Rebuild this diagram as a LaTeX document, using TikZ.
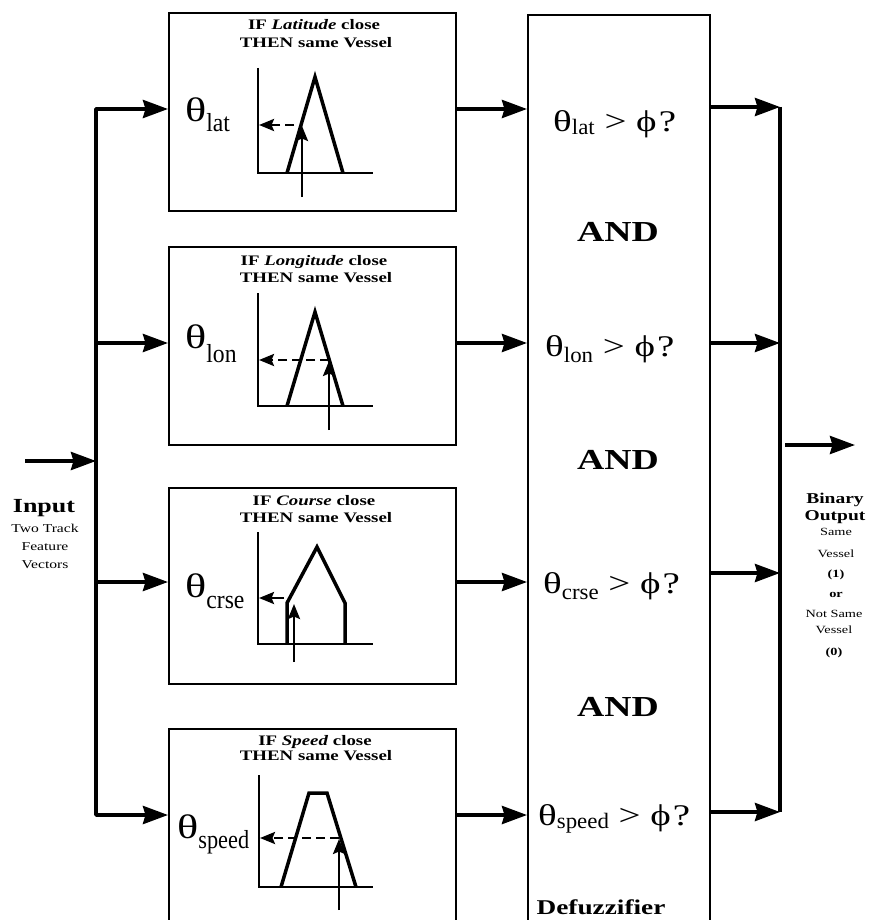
\documentclass[tikz,border=0pt]{standalone}
\usepackage{fontspec}
\setmainfont{Liberation Serif}[FakeStretch=1.3]
\usetikzlibrary{arrows.meta}
\newcommand\ThetaSub[5]{{\fontsize{#1}{#1}\selectfont θ}\raisebox{-#3}{\scalebox{#5}[1]{\fontsize{#2}{#2}\selectfont #4}}}
\begin{document}
\begin{tikzpicture}[x=1pt,y=-1pt,
  box/.style={draw, line width=1.6pt, inner sep=0pt, anchor=north west},
  arr/.style={line width=3.8pt, -{Stealth[length=25pt,width=18pt,inset=2.5pt]}},
  bus/.style={line width=3.8pt, line cap=square},
  axisl/.style={line width=2.5pt},
  curve/.style={line width=3.5pt, line join=miter},
  garr/.style={line width=2.5pt, -{Stealth[length=15pt,width=12pt,inset=2.5pt]}},
  dsh/.style={dash pattern=on 9pt off 5pt},
  ttl/.style={anchor=base, inner sep=0pt, font=\fontsize{14.5}{16}\selectfont\bfseries},
  lbl/.style={anchor=base west, inner sep=0pt},
  andl/.style={inner sep=0pt, font=\fontsize{29}{29}\selectfont\bfseries},
  sm/.style={anchor=base, inner sep=0pt, font=\fontsize{11}{11}\selectfont},
  smb/.style={anchor=base, inner sep=0pt, font=\fontsize{11}{11}\selectfont\bfseries},
  big/.style={anchor=base, inner sep=0pt, font=\fontsize{15}{16}\selectfont\bfseries}]
\useasboundingbox (0,0) rectangle (869,920);
\clip (0,0) rectangle (869,920);

% boxes
\node[box, minimum width=287pt, minimum height=198pt] (b1) at (168,12) {};
\node[box, minimum width=287pt, minimum height=198pt] (b2) at (168,246) {};
\node[box, minimum width=287pt, minimum height=196pt] (b3) at (168,487) {};
\node[box, minimum width=287pt, minimum height=207pt] (b4) at (168,728) {};
\node[box, minimum width=182pt, minimum height=930pt] (df) at (527,14) {};

% titles
\node[ttl] (t1a) at (314,30) {IF \textit{Latitude} close};
\node[ttl] (t1b) at (316,48) {THEN same Vessel};
\node[ttl] (t2a) at (314,265) {IF \textit{Longitude} close};
\node[ttl] (t2b) at (316,282) {THEN same Vessel};
\node[ttl] (t3a) at (314,505) {IF \textit{Course} close};
\node[ttl] (t3b) at (316,522) {THEN same Vessel};
\node[ttl] (t4a) at (315,745) {IF \textit{Speed} close};
\node[ttl] (t4b) at (316,760) {THEN same Vessel};

% theta labels in boxes
\node[lbl] (l1) at (185,122) {\ThetaSub{34}{26}{10pt}{lat}{0.7}};
\node[lbl] (l2) at (185,348) {\ThetaSub{34}{26}{14pt}{lon}{0.7}};
\node[lbl] (l3) at (185,597) {\ThetaSub{34}{26}{11pt}{crse}{0.7}};
\node[lbl] (l4) at (177,838) {\ThetaSub{34}{26}{10pt}{speed}{0.66}};

% membership graphs
\draw[axisl] (258,68) -- (258,173) -- (373,173);
\draw[curve] (287,173) -- (315,77) -- (343,173);
\draw[garr] (302,197) -- (302,126);
\draw[garr,dsh] (294,125) -- (259,125);

\draw[axisl] (258,293) -- (258,406) -- (373,406);
\draw[curve] (287,406) -- (315,312) -- (343,406);
\draw[garr] (329,430) -- (329,361);
\draw[garr,dsh] (329,360) -- (259,360);

\draw[axisl] (258,532) -- (258,644) -- (373,644);
\draw[curve] (287,644) -- (287,603) -- (317,547) -- (345,603) -- (345,644);
\draw[garr] (294,662) -- (294,604);
\draw[garr] (284,598) -- (259,598);

\draw[axisl] (259,775) -- (259,887) -- (373,887);
\draw[curve] (281,887) -- (309,793) -- (327,793) -- (356,887);
\draw[garr] (339,910) -- (339,839);
\draw[garr,dsh] (339,838) -- (260,838);

% defuzzifier texts
\node[lbl] (d1) at (553,132) {\ThetaSub{30}{22}{3pt}{lat}{0.8}{\fontsize{30}{30}\selectfont\ >\ ϕ\kern2pt?}};
\node[lbl] (d2) at (545,356) {\ThetaSub{30}{22}{6pt}{lon}{0.8}{\fontsize{30}{30}\selectfont\ >\ ϕ\kern2pt?}};
\node[lbl] (d3) at (543,593) {\ThetaSub{30}{22}{6pt}{crse}{0.8}{\fontsize{30}{30}\selectfont\ >\ ϕ\kern2pt?}};
\node[lbl] (d4) at (538,825) {\ThetaSub{30}{22}{3pt}{speed}{0.8}{\fontsize{30}{30}\selectfont\ >\ ϕ\kern2pt?}};
\node[andl] (a1) at (618,232) {AND};
\node[andl] (a2) at (618,460) {AND};
\node[andl] (a3) at (618,707) {AND};
\node[anchor=base, inner sep=0pt, font=\fontsize{21}{21}\selectfont\bfseries] (dfl) at (601,914) {Defuzzifier};

% input bus
\coordinate (i1) at (96,109);
\coordinate (i2) at (96,343);
\coordinate (i3) at (96,582);
\coordinate (i4) at (96,815);
\coordinate (in) at (25,461);
\draw[arr, line join=round] (i2) -- (i1) -- (i1 -| b1.west);
\draw[arr, line join=round] (i3) -- (i4) -- (i4 -| b4.west);
\draw[bus] (i2) -- (i3);
\draw[arr] (i2) -- (i2 -| b2.west);
\draw[arr] (i3) -- (i3 -| b3.west);
\draw[arr] (in) -- (in -| i1);

% box -> defuzzifier
\draw[arr] (i1 -| b1.east) -- (i1 -| df.west);
\draw[arr] (i2 -| b2.east) -- (i2 -| df.west);
\draw[arr] (i3 -| b3.east) -- (i3 -| df.west);
\draw[arr] (i4 -| b4.east) -- (i4 -| df.west);

% output bus
\coordinate (o1) at (780,107);
\coordinate (o2) at (780,343);
\coordinate (o3) at (780,573);
\coordinate (o4) at (780,812);
\coordinate (out) at (855,445);
\draw[bus] (o1) -- (o4);
\draw[arr] (o1 -| df.east) -- (o1);
\draw[arr] (o2 -| df.east) -- (o2);
\draw[arr] (o3 -| df.east) -- (o3);
\draw[arr] (o4 -| df.east) -- (o4);
\draw[arr, shorten <=5pt] (o1 |- out) -- (out);

% input label
\node[anchor=base, inner sep=0pt, font=\fontsize{20}{20}\selectfont\bfseries] (inl) at (44,512) {Input};
\node[anchor=base, inner sep=0pt, font=\fontsize{12}{12}\selectfont] (inl2) at (45,532) {Two Track};
\node[anchor=base, inner sep=0pt, font=\fontsize{12}{12}\selectfont] (inl3) at (45,550) {Feature};
\node[anchor=base, inner sep=0pt, font=\fontsize{12}{12}\selectfont] (inl4) at (45,568) {Vectors};

% output label
\node[big] (ob1) at (835,503) {Binary};
\node[big] (ob2) at (835,520) {Output};
\node[sm] (ob3) at (836,535) {Same};
\node[sm] (ob4) at (836,557) {Vessel};
\node[smb] (ob5) at (836,577) {(1)};
\node[smb] (ob6) at (836,597) {or};
\node[sm] (ob7) at (834,617) {Not Same};
\node[sm] (ob8) at (834,633) {Vessel};
\node[smb] (ob9) at (834,655) {(0)};
\end{tikzpicture}
\end{document}
